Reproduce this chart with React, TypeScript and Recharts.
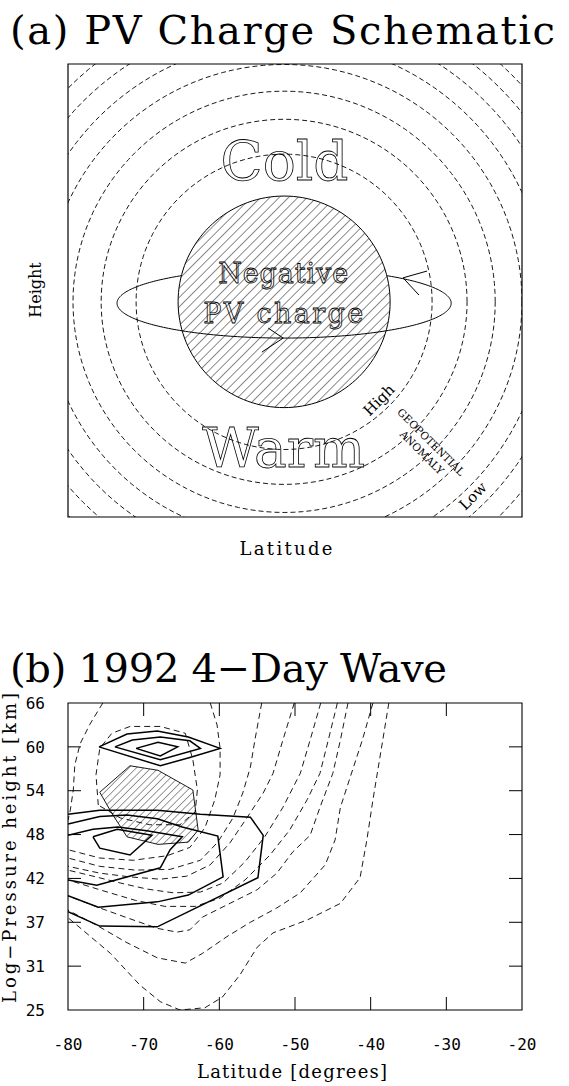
import React from "react";
import {
  ScatterChart,
  Scatter,
  XAxis,
  YAxis,
  ReferenceArea,
  ReferenceLine,
  ReferenceDot,
} from "recharts";

type Pair = [number, number];

// ---------- (a) PV charge schematic, drawn in a 0..100 box ----------
const geoCentre: Pair = [47.6, 47.5];
const geoRadii = [32.6, 40.3, 46.5, 52.4, 57.7, 62.6, 67.0, 70.9, 74.4];
const chargeRadius = 23.35;
const orbitCentre: Pair = [47.6, 47.2];
const orbitRadii: Pair = [36.8, 7.7];
const arrowBack: Pair[] = [[79.1, 54.3], [73.8, 52.8], [77.3, 49.0]];
const arrowFront: Pair[] = [[44.1, 41.7], [47.4, 39.5], [42.7, 36.4]];

const coldAt: Pair = [47.7, 74.4];
const warmAt: Pair = [47.5, 11.0];
const negAt: Pair = [47.4, 51.7];
const pvAt: Pair = [47.4, 42.8];
const highAt: Pair = [68.5, 25.8];
const geoAt: Pair = [80.0, 16.6];
const anomAt: Pair = [78.0, 14.3];
const lowAt: Pair = [89.2, 4.6];

// ---------- (b) 1992 4-day wave ----------
const latTicks = [-80, -70, -60, -50, -40, -30, -20];
const latTickLabels = ["-80", "-70", "-60", "-50", "-40", "-30", "-20"];
const zTicks = [25, 30.8, 36.6, 42.4, 48.2, 54, 59.8, 65.6];
const zTickLabels = ["25", "31", "37", "42", "48", "54", "60", "66"];

// solid contours (lat, km)
const upperOuter: Pair[] = [[-75.9, 59.8], [-72.2, 61.5], [-68.2, 61.9], [-64.1, 61.1], [-59.9, 59.6], [-63.9, 58.4], [-67.8, 57.3], [-75.9, 59.8]];
const upperMiddle: Pair[] = [[-73.8, 59.8], [-71.5, 60.7], [-67.8, 61.1], [-63.9, 60.6], [-62.5, 59.6], [-67.8, 58.1], [-73.8, 59.8]];
const upperInner: Pair[] = [[-71.0, 59.6], [-68.1, 60.4], [-65.5, 59.8], [-67.8, 58.6], [-71.0, 59.6]];
const lowerInner: Pair[] = [[-76.7, 47.9], [-73.5, 48.9], [-68.9, 48.1], [-71.8, 45.5], [-75.8, 46.4], [-76.7, 47.9]];
const lowerRing2: Pair[] = [[-80, 48.1], [-76.7, 48.9], [-73.4, 49.2], [-69.6, 48.7], [-64.9, 47.9], [-66.5, 46.2], [-67.8, 43.8], [-76.2, 41.5], [-80, 42.2]];
const lowerRing3: Pair[] = [[-80, 49.6], [-75.8, 50.6], [-72.2, 50.8], [-68.2, 50.3], [-64.9, 49.2], [-60.2, 48.0], [-59.5, 42.6], [-64.1, 40.2], [-68.2, 39.3], [-76.0, 38.6], [-80, 40.1]];
const lowerRing4: Pair[] = [[-80, 50.9], [-75.8, 51.4], [-68.2, 51.4], [-62.5, 50.9], [-55.9, 50.5], [-54.2, 48.1], [-54.9, 42.5], [-68.2, 36.0], [-75.8, 36.1], [-80, 38.0]];

// hatched region
const hatchRegion: Pair[] = [[-75.8, 53.8], [-71.8, 57.3], [-68.1, 56.7], [-63.5, 54.1], [-62.8, 48.8], [-64.1, 47.2], [-68.1, 46.9], [-72.2, 47.9], [-74.2, 51.0], [-75.8, 53.8]];

// dashed contours
const dashTopLeft: Pair[] = [[-75.4, 65.6], [-77.1, 62.8], [-78.4, 60.2], [-79.1, 57.4], [-79.3, 54.1], [-79.7, 51.4], [-80, 50.1]];
const dashLoop: Pair[] = [[-76.0, 52.1], [-76.3, 56.1], [-75.8, 59.6], [-74.2, 61.6], [-71.8, 62.5], [-67.8, 62.5], [-64.5, 61.6], [-63.5, 58.1], [-62.9, 54.1], [-63.2, 51.2], [-65.2, 49.5], [-69.2, 49.5], [-73.1, 50.4], [-76.0, 52.1]];
const dash1: Pair[] = [[-61.2, 65.6], [-60.3, 62.7], [-59.9, 59.6], [-59.9, 56.1], [-60.6, 52.8], [-61.9, 49.1], [-63.9, 46.5], [-66.9, 45.4], [-71.4, 44.8], [-75.8, 45.1], [-80, 46.2]];
const dash2: Pair[] = [[-54.4, 65.6], [-55.3, 60.7], [-55.9, 57.1], [-56.9, 53.7], [-58.2, 50.4], [-60.2, 47.2], [-62.5, 44.8], [-66.5, 43.6], [-71.1, 43.5], [-75.8, 44.0], [-80, 45.1]];
const dash3: Pair[] = [[-50.1, 65.6], [-51.6, 60.7], [-52.9, 56.3], [-54.2, 53.7], [-56.3, 50.5], [-58.6, 47.1], [-61.2, 44.2], [-64.3, 42.7], [-67.8, 42.3], [-71.8, 42.6], [-75.8, 43.1], [-80, 44.0]];
const dash4: Pair[] = [[-46.6, 65.6], [-48.0, 60.7], [-49.3, 56.3], [-51.6, 51.8], [-54.0, 47.9], [-56.6, 44.6], [-59.5, 41.8], [-62.5, 40.6], [-66.1, 40.5], [-69.6, 41.0], [-73.1, 41.8], [-76.7, 42.7], [-80, 43.5]];
const dash5: Pair[] = [[-44.4, 65.6], [-45.6, 60.7], [-46.7, 56.3], [-48.4, 52.8], [-50.7, 48.8], [-53.3, 45.5], [-56.6, 42.2], [-59.9, 39.8], [-63.2, 38.7], [-67.2, 38.7], [-71.1, 39.5], [-75.8, 40.9], [-80, 42.2]];
const dash6: Pair[] = [[-43.0, 65.6], [-44.0, 60.7], [-45.0, 56.3], [-46.7, 51.8], [-48.0, 48.1], [-50.3, 45.9], [-52.4, 43.1], [-55.0, 40.9], [-59.0, 38.9], [-62.2, 37.3], [-63.9, 35.6], [-65.6, 35.3], [-68.2, 35.8], [-72.2, 37.2], [-75.8, 38.5], [-80, 40.1]];
const dash7: Pair[] = [[-39.7, 65.6], [-41.1, 60.7], [-42.7, 55.8], [-44.0, 51.8], [-44.7, 47.5], [-46.0, 44.2], [-49.3, 40.5], [-52.4, 38.5], [-55.9, 36.6], [-59.0, 34.7], [-62.2, 32.5], [-64.5, 31.2], [-68.2, 31.9], [-72.2, 33.9], [-76.2, 36.2], [-80, 38.2]];
const dash8: Pair[] = [[-37.6, 65.6], [-38.4, 60.7], [-39.7, 52.8], [-40.5, 47.5], [-41.4, 42.5], [-44.0, 39.1], [-48.4, 36.9], [-52.9, 35.2], [-55.0, 33.3], [-57.3, 29.6], [-59.6, 26.7], [-61.9, 25.3], [-65.2, 25.0], [-67.8, 26.1], [-70.5, 28.3], [-74.4, 32.5], [-78.8, 36.2], [-80, 37.2]];

const solidContours = [upperOuter, upperMiddle, upperInner, lowerInner, lowerRing2, lowerRing3, lowerRing4];
const dashedContours = [dashTopLeft, dashLoop, dash1, dash2, dash3, dash4, dash5, dash6, dash7, dash8];

const SERIF = "'DejaVu Serif', serif";
const MONO = "'DejaVu Sans Mono', monospace";

const toPts = (arr: Pair[]) => arr.map(([x, y]) => ({ x, y }));

// points along a circle / ellipse outline from its centre and radii
function outline(c: Pair, rx: number, ry: number, from = 0, to = 2 * Math.PI, n = 144) {
  const out: { x: number; y: number }[] = [];
  for (let i = 0; i <= n; i++) {
    const t = from + ((to - from) * i) / n;
    out.push({ x: c[0] + rx * Math.cos(t), y: c[1] + ry * Math.sin(t) });
  }
  return out;
}

const NoDot = () => <g />;

const label =
  (text: string, style: React.SVGProps<SVGTextElement>, rotate = 0) =>
  (p: any) => (
    <text
      x={p.cx}
      y={p.cy}
      textAnchor="middle"
      transform={rotate ? `rotate(${rotate} ${p.cx} ${p.cy})` : undefined}
      {...style}
    >
      {text}
    </text>
  );

// outlined lettering; the tiny opacity keeps the glyphs grey-scale antialiased
const hollow = { fontFamily: SERIF, fill: "none", stroke: "#000", strokeWidth: 0.8, opacity: 0.995 };

function PanelA() {
  const dashed = { stroke: "#000", strokeWidth: 0.9, strokeDasharray: "5 3" };
  const solid = { stroke: "#000", strokeWidth: 1 };
  return (
    <ScatterChart width={569} height={580} margin={{ top: 64, right: 47, bottom: 63, left: 68 }}>
      <XAxis type="number" dataKey="x" domain={[0, 100]} allowDataOverflow hide />
      <YAxis type="number" dataKey="y" domain={[0, 100]} allowDataOverflow hide />
      {geoRadii.map((r, i) => (
        <Scatter
          key={`g${i}`}
          data={outline(geoCentre, r, r)}
          line={dashed}
          lineType="joint"
          shape={NoDot}
          isAnimationActive={false}
        />
      ))}
      <Scatter
        data={outline(orbitCentre, orbitRadii[0], orbitRadii[1], 0, Math.PI)}
        line={solid}
        shape={NoDot}
        isAnimationActive={false}
      />
      <Scatter
        data={outline(geoCentre, chargeRadius, chargeRadius)}
        line={{ stroke: "#000", strokeWidth: 1, fill: "url(#hatchA)" }}
        shape={NoDot}
        isAnimationActive={false}
      />
      <Scatter
        data={outline(orbitCentre, orbitRadii[0], orbitRadii[1], Math.PI, 2 * Math.PI)}
        line={solid}
        shape={NoDot}
        isAnimationActive={false}
      />
      <Scatter data={toPts(arrowBack)} line={solid} shape={NoDot} isAnimationActive={false} />
      <Scatter data={toPts(arrowFront)} line={solid} shape={NoDot} isAnimationActive={false} />
      <ReferenceArea x1={0} x2={100} y1={0} y2={100} fill="none" stroke="#000" strokeWidth={1.2} fillOpacity={0} />
      <ReferenceDot x={coldAt[0]} y={coldAt[1]} shape={label("Cold", { ...hollow, fontSize: 55 })} />
      <ReferenceDot x={warmAt[0]} y={warmAt[1]} shape={label("Warm", { ...hollow, fontSize: 55 })} />
      <ReferenceDot x={negAt[0]} y={negAt[1]} shape={label("Negative", { ...hollow, fontSize: 27, textLength: 130 })} />
      <ReferenceDot x={pvAt[0]} y={pvAt[1]} shape={label("PV charge", { ...hollow, fontSize: 27, textLength: 160 })} />
      <ReferenceDot x={highAt[0]} y={highAt[1]} shape={label("High", { fontFamily: SERIF, fontSize: 15, dominantBaseline: "central" }, -45)} />
      <ReferenceDot x={geoAt[0]} y={geoAt[1]} shape={label("GEOPOTENTIAL", { fontFamily: SERIF, fontSize: 10.5, dominantBaseline: "central" }, 45)} />
      <ReferenceDot x={anomAt[0]} y={anomAt[1]} shape={label("ANOMALY", { fontFamily: SERIF, fontSize: 10.5, dominantBaseline: "central" }, 45)} />
      <ReferenceDot x={lowAt[0]} y={lowAt[1]} shape={label("Low", { fontFamily: SERIF, fontSize: 15, dominantBaseline: "central" }, -45)} />
    </ScatterChart>
  );
}

function PanelB() {
  const tickLen = 1.72;
  return (
    <ScatterChart width={569} height={506} margin={{ top: 123, right: 47, bottom: 36, left: 8 }}>
      <XAxis
        type="number"
        dataKey="x"
        domain={[-80, -20]}
        ticks={latTicks}
        interval={0}
        tickFormatter={(_v: number, i: number) => latTickLabels[i]}
        tickLine={false}
        axisLine={false}
        tickSize={0}
        tickMargin={29}
        height={40}
        allowDataOverflow
        tick={{ fill: "#000", fontSize: 16, fontFamily: MONO }}
      />
      <YAxis
        type="number"
        dataKey="y"
        domain={[25, 65.6]}
        ticks={zTicks}
        interval={0}
        tickFormatter={(_v: number, i: number) => zTickLabels[i]}
        tickLine={false}
        axisLine={false}
        tickSize={0}
        tickMargin={23}
        width={60}
        allowDataOverflow
        tick={{ fill: "#000", fontSize: 16, fontFamily: MONO }}
      />
      {dashedContours.map((c, i) => (
        <Scatter
          key={`d${i}`}
          data={toPts(c)}
          line={{ stroke: "#000", strokeWidth: 0.9, strokeDasharray: "6 4" }}
          shape={NoDot}
          isAnimationActive={false}
        />
      ))}
      <Scatter
        data={toPts(hatchRegion)}
        line={{ stroke: "#000", strokeWidth: 0.9, fill: "url(#hatchB)" }}
        shape={NoDot}
        isAnimationActive={false}
      />
      {solidContours.map((c, i) => (
        <Scatter
          key={`s${i}`}
          data={toPts(c)}
          line={{ stroke: "#000", strokeWidth: 1.5 }}
          shape={NoDot}
          isAnimationActive={false}
        />
      ))}
      <ReferenceArea x1={-80} x2={-20} y1={25} y2={65.6} fill="none" stroke="#000" strokeWidth={1.1} fillOpacity={0} />
      {latTicks.slice(1, -1).map((t) => (
        <ReferenceLine key={`xb${t}`} segment={[{ x: t, y: 25 }, { x: t, y: 25 + tickLen }]} stroke="#000" />
      ))}
      {latTicks.slice(1, -1).map((t) => (
        <ReferenceLine key={`xt${t}`} segment={[{ x: t, y: 65.6 }, { x: t, y: 65.6 - tickLen }]} stroke="#000" />
      ))}
      {zTicks.slice(1, -1).map((t) => (
        <ReferenceLine key={`yl${t}`} segment={[{ x: -80, y: t }, { x: -80 + tickLen, y: t }]} stroke="#000" />
      ))}
      {zTicks.slice(1, -1).map((t) => (
        <ReferenceLine key={`yr${t}`} segment={[{ x: -20, y: t }, { x: -20 - tickLen, y: t }]} stroke="#000" />
      ))}
    </ScatterChart>
  );
}

export default function App() {
  return (
    <div style={{ position: "absolute", left: 0, top: 0, width: 569, height: 1086, background: "#fff" }}>
      <svg width={0} height={0} style={{ position: "absolute" }}>
        <defs>
          <pattern id="hatchA" patternUnits="userSpaceOnUse" width={6.6} height={6.6} patternTransform="rotate(45)">
            <rect width={6.6} height={6.6} fill="#fff" />
            <line x1={0} y1={0} x2={0} y2={6.6} stroke="#000" strokeWidth={0.9} />
          </pattern>
          <pattern id="hatchB" patternUnits="userSpaceOnUse" width={5.2} height={5.2} patternTransform="rotate(45)">
            <line x1={0} y1={0} x2={0} y2={5.2} stroke="#000" strokeWidth={0.8} />
          </pattern>
        </defs>
      </svg>
      <div style={{ position: "absolute", left: 0, top: 0 }}>
        <PanelA />
      </div>
      <div style={{ position: "absolute", left: 0, top: 580 }}>
        <PanelB />
      </div>
      <svg
        width={569}
        height={1086}
        style={{ position: "absolute", left: 0, top: 0, pointerEvents: "none" }}
        fontFamily={SERIF}
      >
        <text x={10} y={44} fontSize={40} textLength={545}>(a) PV Charge Schematic</text>
        <text x={41} y={290} fontSize={16} textAnchor="middle" transform="rotate(-90 41 290)">Height</text>
        <text x={286} y={555} fontSize={18} textAnchor="middle" textLength={93}>Latitude</text>
        <text x={10} y={682} fontSize={40} textLength={437}>(b) 1992 4−Day Wave</text>
        <text x={16} y={848} fontSize={18} textAnchor="middle" textLength={310} transform="rotate(-90 16 848)">Log−Pressure height [km]</text>
        <text x={292} y={1078} fontSize={18} textAnchor="middle" textLength={190}>Latitude [degrees]</text>
      </svg>
    </div>
  );
}
